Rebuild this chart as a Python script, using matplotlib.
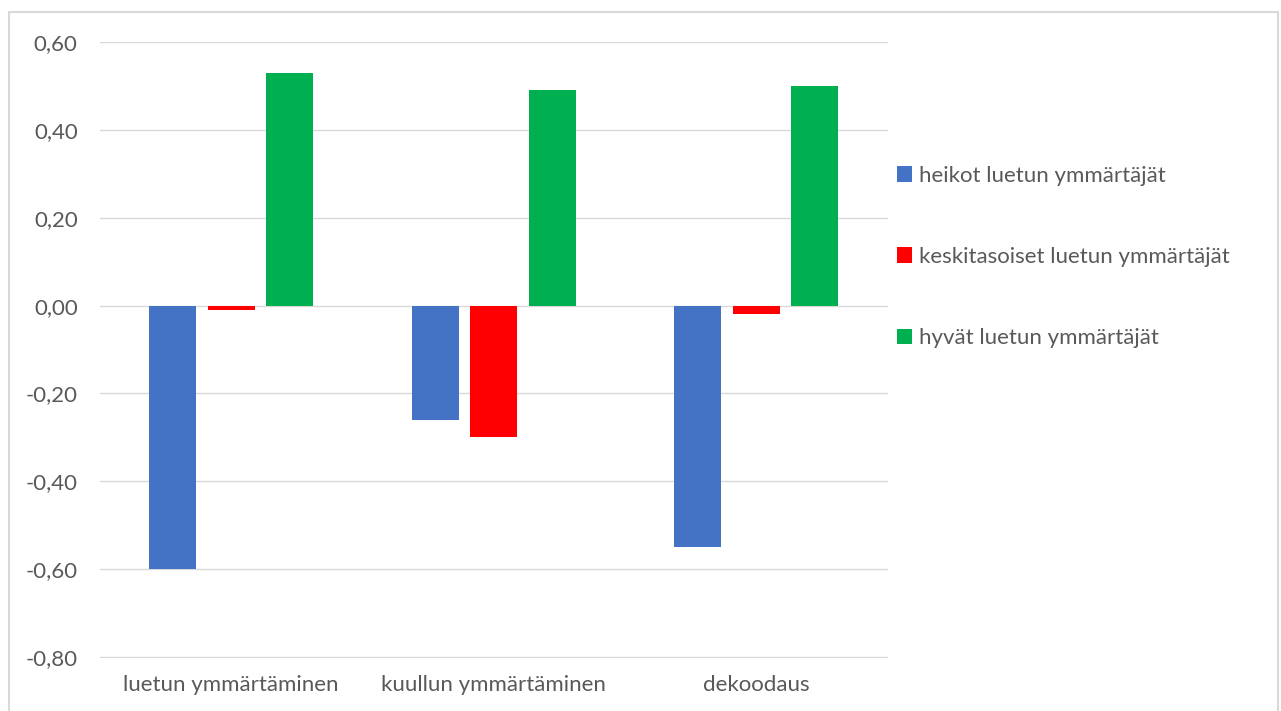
import numpy as np
import matplotlib.pyplot as plt
from matplotlib.patches import Rectangle

plt.rcParams['font.family'] = ['Lato', 'DejaVu Sans']

# data
categories = ['luetun ymmärtäminen', 'kuullun ymmärtäminen', 'dekoodaus']
series_names = ['heikot luetun ymmärtäjät', 'keskitasoiset luetun ymmärtäjät', 'hyvät luetun ymmärtäjät']
heikot = [-0.60, -0.26, -0.55]
keskitasoiset = [-0.01, -0.30, -0.02]
hyvat = [0.53, 0.49, 0.50]
colors = ['#4472C4', '#FF0000', '#00B050']

text_color = '#595959'
grid_color = '#D9D9D9'

fig = plt.figure(figsize=(12.81, 7.11), dpi=100)
ax = fig.add_axes([0.078, 0.0745, 0.615, 0.8665])

x = np.arange(len(categories))
width = 0.179
step = 0.223
for i, (vals, name) in enumerate(zip([heikot, keskitasoiset, hyvat], series_names)):
    ax.bar(x + (i - 1) * step, vals, width, color=colors[i], label=name, zorder=3)

ax.set_xlim(-0.5, 2.5)
ax.set_ylim(-0.802, 0.6)
yt = np.arange(-0.8, 0.61, 0.2)
ax.set_yticks(yt)
ax.set_yticklabels([f'{v:.2f}'.replace('.', ',').replace('-0,00', '0,00') for v in yt],
                   color=text_color, fontsize=16)
ax.set_xticks(x)
ax.set_xticklabels(categories, color=text_color, fontsize=16)
ax.tick_params(axis='both', length=0)
ax.tick_params(axis='y', pad=16)
ax.tick_params(axis='x', pad=12)
ax.grid(axis='y', color=grid_color, linewidth=1, zorder=0)
for s in ax.spines.values():
    s.set_visible(False)

ax.legend(loc='center left', bbox_to_anchor=(1.0, 0.651), frameon=False,
          fontsize=16, labelcolor=text_color, handlelength=0.7, handleheight=0.7,
          handletextpad=0.3, labelspacing=2.75, borderaxespad=0.0)

fig.patches.append(Rectangle((9 / 1281, -0.01), 1269 / 1281, 1 - 12 / 711 + 0.01,
                             transform=fig.transFigure, fill=False,
                             edgecolor=grid_color, linewidth=1.5))

fig.savefig('out.png', dpi=100)
